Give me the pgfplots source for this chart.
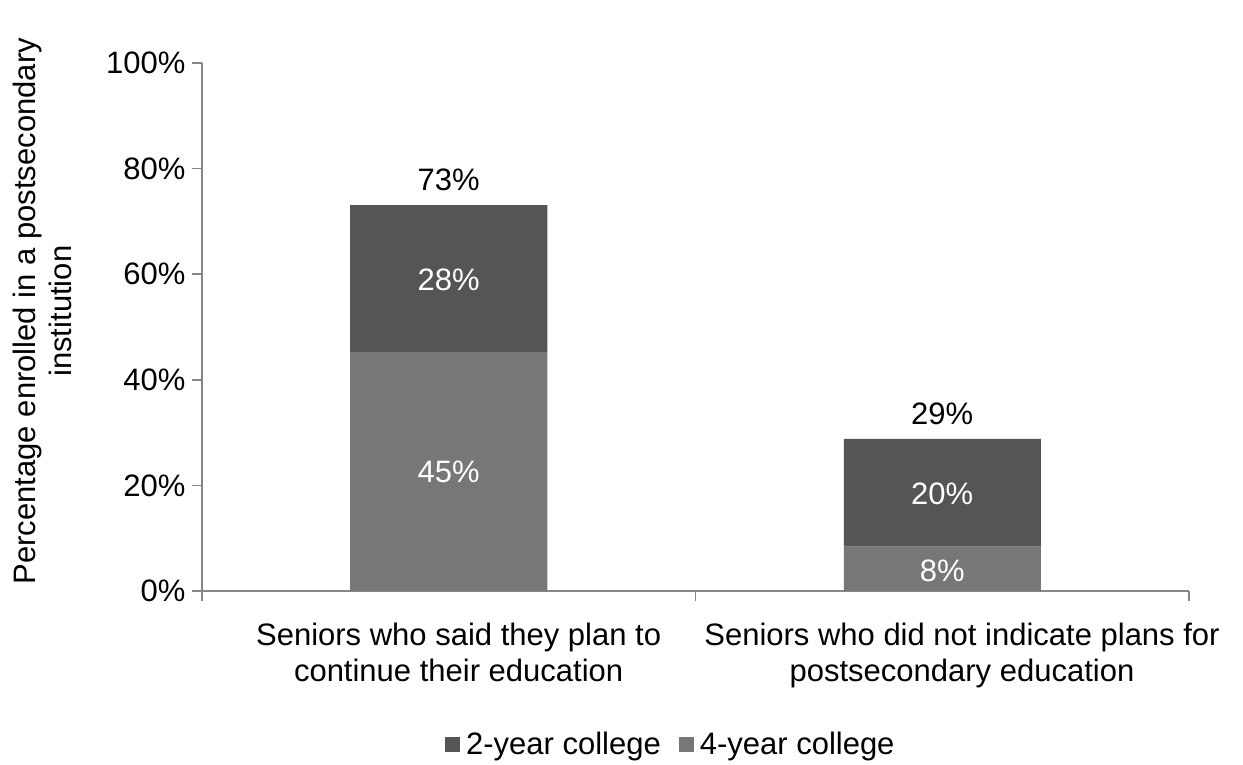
\documentclass[border=0pt]{standalone}
\usepackage{pgfplots}
\pgfplotsset{compat=1.18}
\usepackage{fontspec}
\setmainfont{Liberation Sans}
\definecolor{twoyr}{HTML}{555555}
\definecolor{fouryr}{HTML}{777777}
\definecolor{axisgray}{HTML}{868686}
\newcommand\cf{\fontsize{31}{36}\selectfont}
\begin{document}
\begin{tikzpicture}[x=1pt,y=1pt]
\begin{axis}[
  at={(0pt,0pt)}, anchor=south west,
  scale only axis,
  width=987pt, height=528pt,
  ybar stacked,
  bar width=197pt,
  xmin=-0.5, xmax=1.5,
  ymin=0, ymax=100,
  axis lines*=left,
  axis line style={axisgray, line width=1.5pt},
  every tick/.style={axisgray, line width=1.5pt},
  tick align=outside,
  major tick length=10pt,
  xtick={-0.5,0.5,1.5},
  xticklabels={},
  extra x ticks={0.02,1.04},
  extra x tick labels={Seniors who said they plan to\\continue their education, Seniors who did not indicate plans for\\postsecondary education},
  extra x tick style={major tick length=0pt, tick label style={align=center, font=\cf, yshift=-29pt}},
  ytick={0,20,40,60,80,100},
  yticklabels={0\%,20\%,40\%,60\%,80\%,100\%},
  yticklabel style={font=\cf, xshift=-3pt},
  ylabel={Percentage enrolled in a postsecondary\\institution},
  every axis y label/.style={at={(axis description cs:-0.162,0.53)}, rotate=90, anchor=center, align=center, font=\cf},
  reverse legend,
  legend columns=2,
  legend style={at={(axis description cs:0.475,-0.29)}, anchor=center, draw=none, fill=none,
     font=\cf,
     /tikz/every even column/.append style={column sep=16pt}},
  legend image code/.code={\fill[#1] (0pt,-7.5pt) rectangle (15pt,7.5pt); \path (19pt,0pt);},
  clip=false,
]
\addplot[fill=fouryr, draw=none] coordinates {(0,45.3) (1,8.4)};
\addplot[fill=twoyr, draw=none] coordinates {(0,27.8) (1,20.4)};
\legend{4-year college, 2-year college}
\coordinate (l1) at (axis cs:0,22.65);
\coordinate (l2) at (axis cs:0,58.9);
\coordinate (l3) at (axis cs:1,3.9);
\coordinate (l4) at (axis cs:1,18.4);
\coordinate (t1) at (axis cs:0,77.8);
\coordinate (t2) at (axis cs:1,33.6);
\end{axis}
\node[white, font=\cf] at (l1) {45\%};
\node[white, font=\cf] at (l2) {28\%};
\node[white, font=\cf] at (l3) {8\%};
\node[white, font=\cf] at (l4) {20\%};
\node[black, font=\cf] at (t1) {73\%};
\node[black, font=\cf] at (t2) {29\%};
\pgfresetboundingbox
\useasboundingbox (-202pt,-174pt) rectangle (1041pt,591pt);
\end{tikzpicture}
\end{document}
